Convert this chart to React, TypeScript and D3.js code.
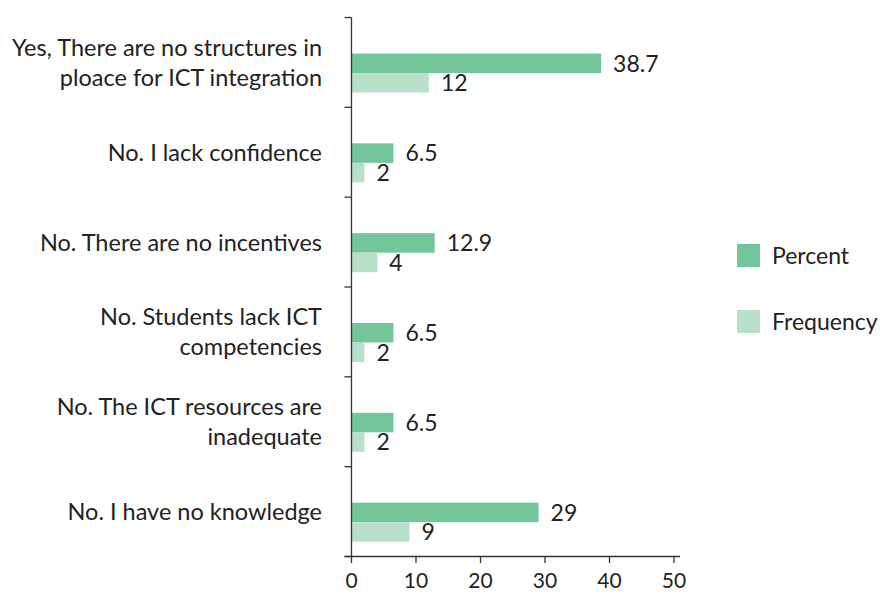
import React, { useEffect, useRef } from "react";
import * as d3 from "d3";

const categories: string[][] = [
  ["Yes, There are no structures in", "ploace for ICT integration"],
  ["No. I lack confidence"],
  ["No. There are no incentives"],
  ["No. Students lack ICT", "competencies"],
  ["No. The ICT resources are", "inadequate"],
  ["No. I have no knowledge"],
];
const percentValues = [38.7, 6.5, 12.9, 6.5, 6.5, 29];
const frequencyValues = [12, 2, 4, 2, 2, 9];
const xTicks = [0, 10, 20, 30, 40, 50];
const seriesNames = ["Percent", "Frequency"];
const seriesColors = ["#72C69A", "#B8E0C9"];

const W = 880;
const H = 594;
const FONT = "Lato, 'Open Sans', sans-serif";
const FS = 23.5;

export default function App() {
  const ref = useRef<SVGSVGElement>(null);
  useEffect(() => {
    const svg = d3.select(ref.current!);
    svg.selectAll("*").remove();
    const x = d3.scaleLinear().domain([0, 50]).range([351.5, 674]);
    const y = d3
      .scaleBand<number>()
      .domain(d3.range(categories.length))
      .range([17.5, 556.5]);
    const barH = 19.5;
    const barOff = 36;
    const g = svg.append("g");

    const series = [percentValues, frequencyValues];
    series.forEach((vals, si) => {
      g.selectAll(null)
        .data(vals)
        .enter()
        .append("rect")
        .attr("x", x(0))
        .attr("y", (_, i) => y(i)! + barOff + si * barH)
        .attr("width", (d) => x(d) - x(0))
        .attr("height", barH)
        .attr("fill", seriesColors[si]);
      g.selectAll(null)
        .data(vals)
        .enter()
        .append("text")
        .attr("x", (d) => x(d) + 12)
        .attr("y", (_, i) => y(i)! + barOff + si * barH + barH / 2)
        .attr("dy", "0.36em")
        .attr("font-family", FONT)
        .attr("font-size", 23)
        .attr("fill", "#222")
        .text((d) => String(d));
    });

    const axisColor = "#333";
    g.append("line")
      .attr("x1", x(0))
      .attr("x2", x(0))
      .attr("y1", 17.5)
      .attr("y2", 556.5)
      .attr("stroke", axisColor)
      .attr("stroke-width", 1.3);
    const yTickPos = d3.range(categories.length + 1).map((i) => 17.5 + i * y.step());
    g.selectAll(null)
      .data(yTickPos)
      .enter()
      .append("line")
      .attr("x1", x(0) - 7)
      .attr("x2", x(0))
      .attr("y1", (d) => d)
      .attr("y2", (d) => d)
      .attr("stroke", axisColor)
      .attr("stroke-width", 1.3);

    g.append("line")
      .attr("x1", x(0) - 7)
      .attr("x2", x(50) + 6)
      .attr("y1", 556.5)
      .attr("y2", 556.5)
      .attr("stroke", axisColor)
      .attr("stroke-width", 1.3);
    g.selectAll(null)
      .data(xTicks)
      .enter()
      .append("line")
      .attr("x1", (d) => x(d))
      .attr("x2", (d) => x(d))
      .attr("y1", 556.5)
      .attr("y2", 563)
      .attr("stroke", axisColor)
      .attr("stroke-width", 1.3);
    g.selectAll(null)
      .data(xTicks)
      .enter()
      .append("text")
      .attr("x", (d) => x(d))
      .attr("y", 588)
      .attr("text-anchor", "middle")
      .attr("font-family", FONT)
      .attr("font-size", 21)
      .attr("fill", "#222")
      .text((d) => String(d));

    const lineH = 30;
    categories.forEach((lines, i) => {
      const cy = y(i)! + y.bandwidth() / 2;
      const t = g
        .append("text")
        .attr("text-anchor", "end")
        .attr("font-family", FONT)
        .attr("font-size", FS)
        .attr("fill", "#222");
      lines.forEach((ln, j) => {
        t.append("tspan")
          .attr("x", 322)
          .attr("y", cy + (j - (lines.length - 1) / 2) * lineH)
          .attr("dy", "0.36em")
          .text(ln);
      });
    });

    seriesNames.forEach((name, i) => {
      const ly = 244 + i * 66;
      g.append("rect")
        .attr("x", 737)
        .attr("y", ly)
        .attr("width", 23)
        .attr("height", 23)
        .attr("fill", seriesColors[i]);
      g.append("text")
        .attr("x", 772)
        .attr("y", ly + 11.5)
        .attr("dy", "0.36em")
        .attr("font-family", FONT)
        .attr("font-size", 23)
        .attr("fill", "#222")
        .text(name);
    });
  }, []);
  return (
    <svg
      ref={ref}
      width={W}
      height={H}
      style={{ position: "absolute", left: 0, top: 0, background: "#fff" }}
    />
  );
}
